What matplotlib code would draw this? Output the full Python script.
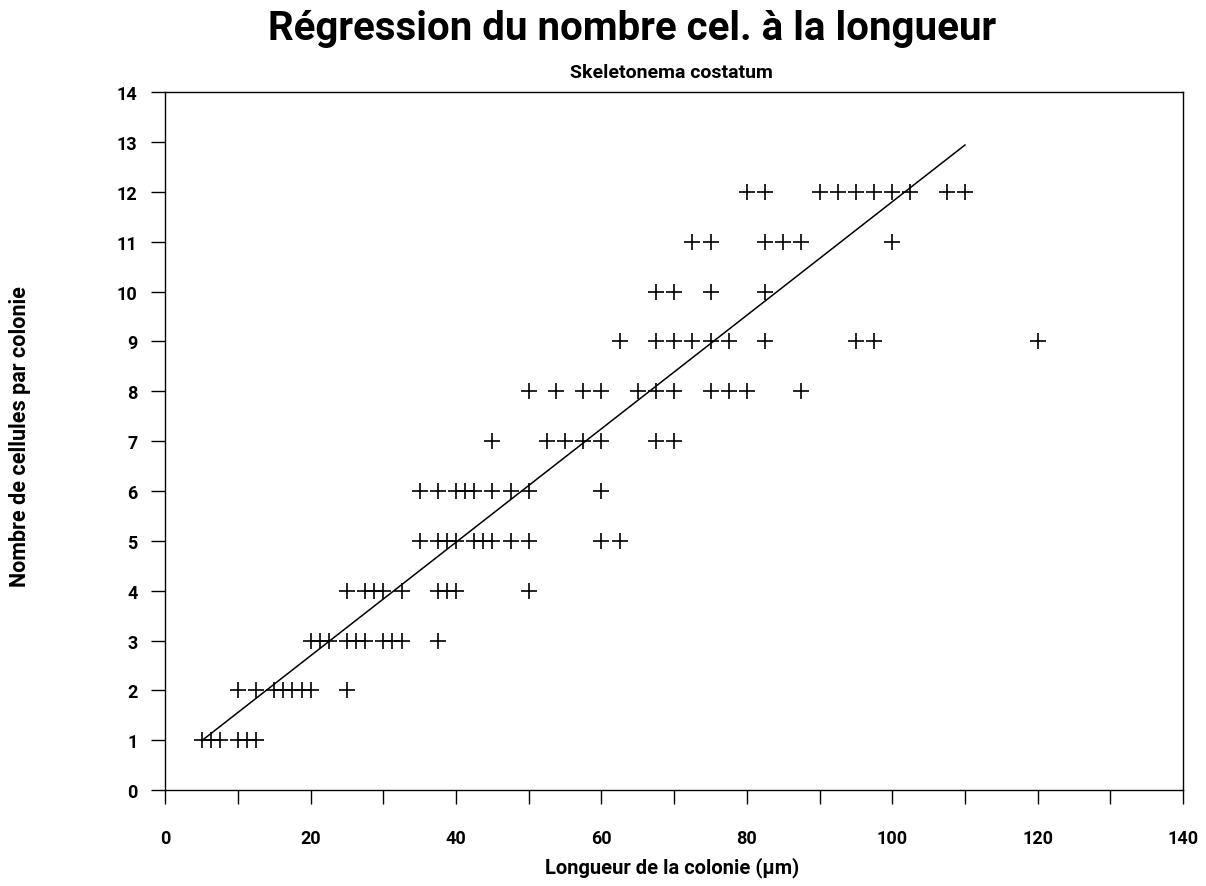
import matplotlib
matplotlib.use("Agg")
import matplotlib.pyplot as plt
import numpy as np

# ──────────────────────────────────────────────
# Données
# ──────────────────────────────────────────────
cells_1 = [5, 6.25, 7.5, 10, 11.25, 12.5]
cells_2 = [10, 12.5, 15, 16.25, 17.5, 18.75, 20, 25]
cells_3 = [20, 21.25, 22.5, 25, 26.25, 27.5, 30, 31.25, 32.5, 37.5]
cells_4 = [25, 27.5, 28.75, 30, 32.5, 37.5, 38.75, 40, 50]
cells_5 = [35, 37.5, 38.75, 40, 42.5, 43.75, 45, 47.5, 50, 60, 62.5]
cells_6 = [35, 37.5, 40, 41.25, 42.5, 45, 47.5, 50, 60]
cells_7 = [45, 52.5, 55, 57.5, 60, 67.5, 70]
cells_8 = [50, 53.75, 57.5, 60, 65, 67.5, 70, 75, 77.5, 80, 87.5]
cells_9 = [62.5, 67.5, 70, 72.5, 75, 77.5, 82.5, 95, 97.5, 120]
cells_10 = [67.5, 70, 75, 82.5]
cells_11 = [72.5, 75, 82.5, 85, 87.5, 100]
cells_12 = [80, 82.5, 90, 92.5, 95, 97.5, 100, 102.5, 107.5, 110]

rows = [cells_1, cells_2, cells_3, cells_4, cells_5, cells_6,
        cells_7, cells_8, cells_9, cells_10, cells_11, cells_12]
counts = list(range(1, 13))

# droite de régression (extrémités lues)
reg_x = [5, 110]
reg_y = [0.99, 12.94]

x_ticks = list(range(0, 141, 20))
y_ticks = list(range(0, 15))

# ──────────────────────────────────────────────
# Figure
# ──────────────────────────────────────────────
fam = ['Roboto', 'DejaVu Sans']

fig = plt.figure(figsize=(12.06, 8.87), dpi=100)
ax = fig.add_axes([0.137, 0.108, 0.844, 0.787])

xs = np.concatenate([np.array(r, dtype=float) for r in rows])
ys = np.concatenate([np.full(len(r), c, dtype=float) for r, c in zip(rows, counts)])
ax.plot(xs, ys, linestyle='none', marker='+', markersize=11,
        markeredgewidth=1.2, color='black')
ax.plot(reg_x, reg_y, color='black', linewidth=1.1)

ax.set_xlim(0, 140)
ax.set_ylim(0, 14)
ax.set_xticks(x_ticks)
ax.set_xticks(list(range(10, 140, 20)), minor=True)
ax.set_yticks(y_ticks)
ax.tick_params(axis='both', which='both', direction='out', length=10,
               width=1, color='black')
ax.tick_params(axis='x', pad=18)
ax.tick_params(axis='y', pad=10)

for lbl in ax.get_xticklabels() + ax.get_yticklabels():
    lbl.set_family(fam)
    lbl.set_fontsize(13)
    lbl.set_fontweight('bold')

for s in ax.spines.values():
    s.set_linewidth(1)

fig.text(0.524, 0.955, "Régression du nombre cel. à la longueur",
         ha='center', va='baseline', fontsize=29, family=fam,
         fontweight='bold')
fig.text(0.557, 0.918, "Skeletonema costatum", ha='center', va='center',
         fontsize=14, family=fam, fontweight='bold')
fig.text(0.557, 0.0214, "Longueur de la colonie (µm)", ha='center',
         va='center', fontsize=14.5, family=fam, fontweight='bold')
fig.text(0.0166, 0.508, "Nombre de cellules par colonie", ha='center',
         va='center', rotation=90, fontsize=15.5, family=fam,
         fontweight='bold')

plt.savefig("out.png", dpi=100)
plt.close()
